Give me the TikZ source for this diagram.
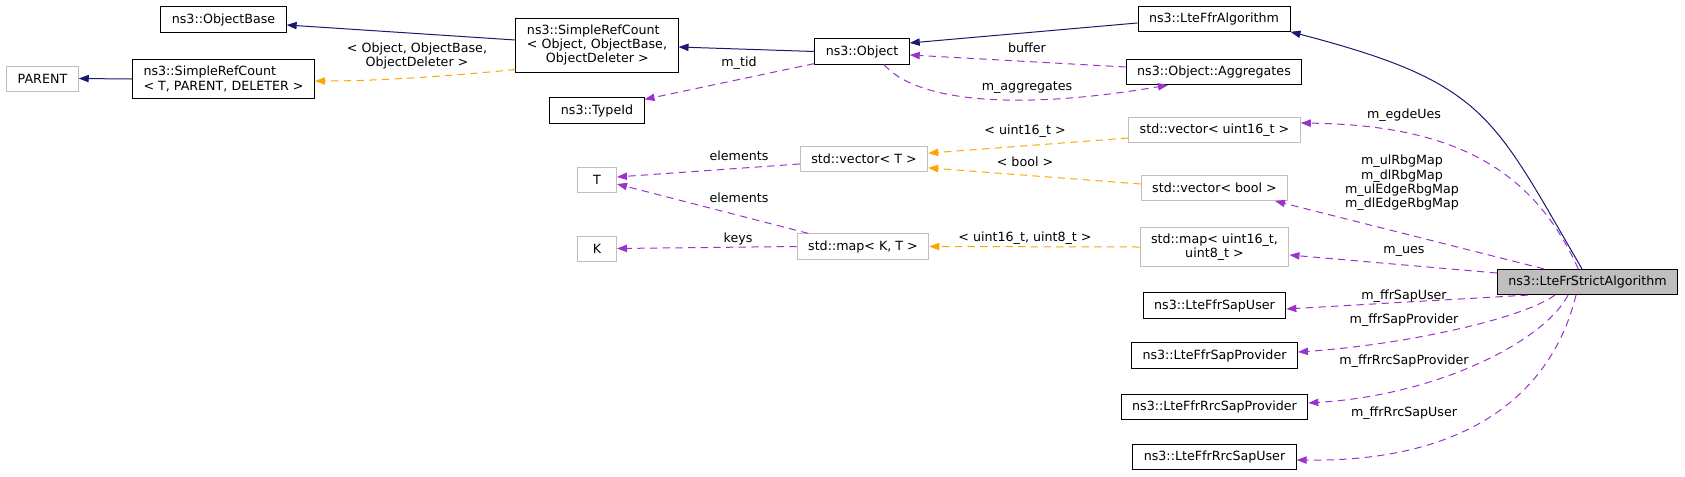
\documentclass[tikz,border=0pt]{standalone}
\usepackage{fontspec}
\setmainfont{DejaVu Sans}
\usetikzlibrary{arrows.meta}
\definecolor{inhblue}{HTML}{191970}
\definecolor{usepurple}{HTML}{9A32CD}
\definecolor{tplorange}{HTML}{FFA500}
\definecolor{boxgrey}{HTML}{BFBFBF}

\begin{document}
\begin{tikzpicture}[x=0.75pt,y=-0.75pt,
  font=\fontsize{9.5}{10.8}\selectfont,
  cls/.style={draw=black,line width=0.75pt,inner xsep=8.25pt,inner ysep=4.85pt,
    minimum height=18.75pt,minimum width=29.25pt,align=left},
  ext/.style={cls,draw=boxgrey},
  inh/.style={draw=inhblue,line width=0.75pt,-{Triangle[length=7.5pt,width=5.5pt]}},
  use/.style={inh,draw=usepurple,dash pattern=on 5.5pt off 4pt},
  tpl/.style={inh,draw=tplorange,dash pattern=on 5.5pt off 4pt},
  lbl/.style={align=center,inner sep=0pt}]
\useasboundingbox (0,0) rectangle (1685,476);

\node[cls] (objbase) at (223.5,19.5) {ns3::ObjectBase};
\node[ext] (parent) at (42.5,78.5) {PARENT};
\node[cls] (srct) at (223.5,79) {ns3::SimpleRefCount\\< T, PARENT, DELETER >};
\node[cls] (srcobj) at (597,45) {ns3::SimpleRefCount\\< Object, ObjectBase,\\\hspace*{1.5em}ObjectDeleter >};
\node[cls] (typeid) at (597,110.5) {ns3::TypeId};
\node[cls] (object) at (862,51.5) {ns3::Object};
\node[cls] (lteffr) at (1214,18.7) {ns3::LteFfrAlgorithm};
\node[cls] (aggr) at (1214,72) {ns3::Object::Aggregates};
\node[ext] (vecuint) at (1214.5,130) {std::vector< uint16\_t >};
\node[ext] (vect) at (864,158.5) {std::vector< T >};
\node[ext] (t) at (597,179.5) {T};
\node[ext] (vecbool) at (1214.5,188) {std::vector< bool >};
\node[ext] (k) at (597,248.5) {K};
\node[ext] (mapkt) at (863,246.5) {std::map< K, T >};
\node[ext,align=center] (mapuint) at (1214.5,247) {std::map< uint16\_t,\\uint8\_t >};
\node[cls,fill=boxgrey] (strict) at (1587.5,282) {ns3::LteFrStrictAlgorithm};
\node[cls] (sapuser) at (1214.5,305.5) {ns3::LteFfrSapUser};
\node[cls] (sapprov) at (1214.5,355.5) {ns3::LteFfrSapProvider};
\node[cls] (rrcprov) at (1214.5,406.7) {ns3::LteFfrRrcSapProvider};
\node[cls] (rrcuser) at (1214.5,457) {ns3::LteFfrRrcSapUser};

\draw[inh] ([yshift=3.75pt]srcobj.west) -- ([yshift=-4.1pt]objbase.east);
\draw[inh] (srct.west) -- (parent.east);
\draw[tpl] ([yshift=2.25pt]srcobj.south west) .. controls (450,76) and (380,81) .. ([yshift=-1.5pt]srct.east);
\node[lbl] (l_srcobj) at (417,56) {< Object, ObjectBase,\\ObjectDeleter >};
\draw[inh] (object.west) -- ([yshift=-1.5pt]srcobj.east);
\draw[use] ([yshift=0.75pt]object.south west) -- ([yshift=-1.5pt]typeid.north east);
\node[lbl] (l_tid) at (739,63) {m\_tid};
\draw[inh] ([yshift=-3.2pt]lteffr.west) -- ([yshift=6.4pt]object.east);
\draw[use] ([yshift=3.75pt]aggr.west) -- ([yshift=-2.6pt]object.east);
\node[lbl] (l_buffer) at (1027,48) {buffer};
\draw[use] ([xshift=16.5pt]object.south) .. controls (915,100) and (1010,112) .. ([xshift=-34.5pt]aggr.south);
\node[lbl] (l_aggr) at (1027,88) {m\_aggregates};

\draw[tpl] ([yshift=-6pt]vecuint.west) -- ([yshift=4pt]vect.east);
\node[lbl] (l_vu16) at (1025,131) {< uint16\_t >};
\draw[tpl] ([yshift=3pt]vecbool.west) -- ([yshift=-7pt]vect.east);
\node[lbl] (l_vbool) at (1025,162) {< bool >};
\draw[tpl] (mapuint.west) -- (mapkt.east);
\node[lbl] (l_mu) at (1025,238) {< uint16\_t, uint8\_t >};

\draw[use] ([yshift=-4.1pt]vect.west) -- ([yshift=1.9pt]t.east);
\node[lbl] (l_el1) at (739,156) {elements};
\draw[use] ([xshift=-41pt]mapkt.north) -- ([yshift=-3.4pt]t.east);
\node[lbl] (l_el2) at (739,198) {elements};
\draw[use] (mapkt.west) -- (k.east);
\node[lbl] (l_keys) at (738,239) {keys};

\draw[inh] ([xshift=-4.1pt]strict.north) .. controls (1492,115) and (1487,83) .. (lteffr.south east);
\draw[use] ([xshift=-7pt]strict.north) .. controls (1530,160) and (1440,125) .. ([yshift=5.25pt]vecuint.east);
\node[lbl] (l_edge) at (1404,115) {m\_egdeUes};
\draw[use] ([xshift=-32.6pt]strict.north) -- ([xshift=45.4pt]vecbool.south);
\node[lbl] (l_rbg) at (1402,183) {m\_ulRbgMap\\m\_dlRbgMap\\m\_ulEdgeRbgMap\\m\_dlEdgeRbgMap};
\draw[use] ([yshift=6.75pt]strict.west) -- ([yshift=-6pt]mapuint.east);
\node[lbl] (l_ues) at (1404,251) {m\_ues};
\draw[use] ([xshift=-44.6pt]strict.south) -- ([yshift=-2.6pt]sapuser.east);
\node[lbl] (l_sapuser) at (1404,296) {m\_ffrSapUser};
\draw[use] ([xshift=-24.4pt]strict.south) .. controls (1520,320) and (1400,345) .. ([yshift=2.6pt]sapprov.east);
\node[lbl] (l_sapprov) at (1404,320) {m\_ffrSapProvider};
\draw[use] ([xshift=-14.6pt]strict.south) .. controls (1545,340) and (1440,395) .. ([yshift=2.8pt]rrcprov.east);
\node[lbl] (l_rrcprov) at (1404,361) {m\_ffrRrcSapProvider};
\draw[use] ([xshift=-8.6pt]strict.south) .. controls (1550,400) and (1460,462) .. ([yshift=-2.25pt]rrcuser.east);
\node[lbl] (l_rrcuser) at (1404,413) {m\_ffrRrcSapUser};
\end{tikzpicture}
\end{document}
